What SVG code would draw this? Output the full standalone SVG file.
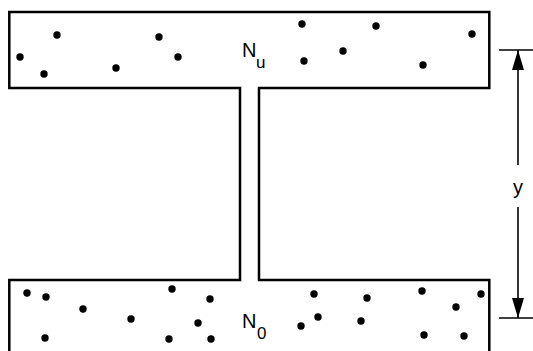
<svg xmlns="http://www.w3.org/2000/svg" width="533" height="351" viewBox="0 0 533 351">
<style>
.outline{fill:none;stroke:#000;stroke-width:2.5;stroke-linejoin:miter}
.dot{fill:#000}
.dim{fill:none;stroke:#000;stroke-width:1.6}
.lbl{font-family:"Liberation Sans",Arial,sans-serif;fill:#000}
</style>
<defs>
<marker id="ah" viewBox="0 0 20 12" refX="20" refY="6" markerWidth="20" markerHeight="12" markerUnits="userSpaceOnUse" orient="auto">
<path d="M0,0 L20,6 L0,12 Z" fill="#000"/>
</marker>
</defs>
<rect width="533" height="351" fill="#fff"/>
<g id="beam">
<path class="outline" d="M9.3,352 V280 H240 V88 H9.3 V12 H489.3 V88 H259 V280 H489.3 V352"/>
</g>
<g id="top-flange">
<circle class="dot" cx="20" cy="57" r="3.7"/>
<circle class="dot" cx="57" cy="35" r="3.7"/>
<circle class="dot" cx="44" cy="74" r="3.7"/>
<circle class="dot" cx="116" cy="68" r="3.7"/>
<circle class="dot" cx="159" cy="37" r="3.7"/>
<circle class="dot" cx="178" cy="57" r="3.7"/>
<circle class="dot" cx="302" cy="24" r="3.7"/>
<circle class="dot" cx="376" cy="26" r="3.7"/>
<circle class="dot" cx="472" cy="34" r="3.7"/>
<circle class="dot" cx="304" cy="61" r="3.7"/>
<circle class="dot" cx="343" cy="51" r="3.7"/>
<circle class="dot" cx="423" cy="65" r="3.7"/>
<text class="lbl" x="242" y="57" font-size="20">N</text>
<text class="lbl" x="256" y="68" font-size="17">u</text>
</g>
<g id="bottom-flange">
<circle class="dot" cx="27" cy="293" r="3.7"/>
<circle class="dot" cx="46" cy="297" r="3.7"/>
<circle class="dot" cx="83" cy="309" r="3.7"/>
<circle class="dot" cx="172" cy="289" r="3.7"/>
<circle class="dot" cx="210" cy="299" r="3.7"/>
<circle class="dot" cx="131" cy="319" r="3.7"/>
<circle class="dot" cx="198" cy="323" r="3.7"/>
<circle class="dot" cx="45" cy="338" r="3.7"/>
<circle class="dot" cx="169" cy="339" r="3.7"/>
<circle class="dot" cx="211" cy="339" r="3.7"/>
<circle class="dot" cx="314" cy="294" r="3.7"/>
<circle class="dot" cx="367" cy="298" r="3.7"/>
<circle class="dot" cx="422" cy="291" r="3.7"/>
<circle class="dot" cx="481" cy="294" r="3.7"/>
<circle class="dot" cx="456" cy="307" r="3.7"/>
<circle class="dot" cx="318" cy="317" r="3.7"/>
<circle class="dot" cx="301" cy="326" r="3.7"/>
<circle class="dot" cx="361" cy="321" r="3.7"/>
<circle class="dot" cx="424" cy="335" r="3.7"/>
<circle class="dot" cx="464" cy="336" r="3.7"/>
<text class="lbl" x="242" y="328" font-size="20">N</text>
<text class="lbl" x="257" y="339" font-size="17">0</text>
</g>
<g id="connectors">
<line class="dim" x1="499" y1="50" x2="533" y2="50"/>
<line class="dim" x1="499" y1="318" x2="533" y2="318"/>
<line class="dim" x1="518" y1="165" x2="518" y2="50" marker-end="url(#ah)"/>
<line class="dim" x1="518" y1="207" x2="518" y2="318" marker-end="url(#ah)"/>
</g>
<g id="dimension-label">
<text class="lbl" x="518" y="194" font-size="20" text-anchor="middle">y</text>
</g>
</svg>
